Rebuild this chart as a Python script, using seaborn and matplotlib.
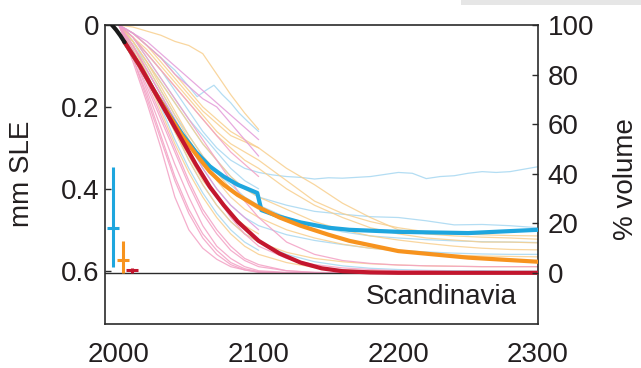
import matplotlib
matplotlib.use("Agg")
import matplotlib.pyplot as plt
import seaborn as sns
from matplotlib.patches import Rectangle

sns.set_theme(style="white")
plt.rcParams['font.family'] = ['Liberation Sans', 'DejaVu Sans']
plt.rcParams['text.color'] = '#231f20'

# Total ice volume of the region (mm sea-level equivalent): 0 % volume left
TOTAL_SLE = 0.605

# Common year grid for the individual model runs
run_years = [2000, 2010, 2020, 2030, 2040, 2050, 2060, 2070, 2080, 2090, 2100,
             2120, 2140, 2160, 2180, 2200, 2220, 2240, 2260, 2280, 2300]

# Individual runs, RCP2.6 (light blue); short lists stop at 2100
rcp26_runs = [
    [0, 0.04, 0.09, 0.14, 0.19, 0.24, 0.29, 0.33, 0.37, 0.40, 0.42,
     0.44, 0.455, 0.462, 0.468, 0.47, 0.478, 0.488, 0.487, 0.49, 0.495],
    [0, 0.05, 0.11, 0.17, 0.23, 0.29, 0.35, 0.40, 0.44, 0.47, 0.49,
     0.512, 0.526, 0.536, 0.545, 0.55, 0.554, 0.557, 0.559, 0.56, 0.56],
    [0, 0.04, 0.10, 0.16, 0.22, 0.27, 0.32, 0.36, 0.39, 0.42, 0.44,
     0.47, 0.49, 0.505, 0.515, 0.52, 0.524, 0.527, 0.529, 0.53, 0.531],
    [0, 0.06, 0.13, 0.20, 0.28, 0.35, 0.41, 0.46, 0.50, 0.53, 0.55],
    [0, 0.03, 0.08, 0.13, 0.18, 0.23, 0.27, 0.31, 0.35, 0.38, 0.40],
    [0, 0.05, 0.12, 0.19, 0.26, 0.33, 0.39, 0.44, 0.48, 0.51, 0.53,
     0.56, 0.578, 0.588, 0.594, 0.597, 0.599, 0.60, 0.60, 0.601, 0.601],
]

# Two RCP2.6 runs with their own, finer year steps
rcp26_high_years = [2000, 2010, 2020, 2030, 2040, 2050, 2056, 2062, 2068,
                    2074, 2080, 2086, 2092, 2100]
rcp26_high_sle = [0, 0.02, 0.05, 0.08, 0.11, 0.15, 0.175, 0.16, 0.147,
                  0.17, 0.19, 0.215, 0.235, 0.26]

rcp26_plateau_years = [2000, 2010, 2020, 2030, 2040, 2050, 2060, 2070, 2080,
                       2090, 2100, 2110, 2120, 2130, 2140, 2150, 2160, 2170,
                       2180, 2190, 2200, 2210, 2220, 2230, 2240, 2250, 2260,
                       2270, 2280, 2290, 2300]
rcp26_plateau_sle = [0, 0.03, 0.07, 0.11, 0.16, 0.21, 0.26, 0.30, 0.33,
                     0.35, 0.36, 0.366, 0.37, 0.372, 0.376, 0.373, 0.374,
                     0.372, 0.37, 0.365, 0.36, 0.362, 0.375, 0.37, 0.368,
                     0.362, 0.358, 0.36, 0.358, 0.352, 0.346]

# Individual runs, RCP4.5 (light orange)
rcp45_runs = [
    [0, 0.005, 0.015, 0.025, 0.04, 0.05, 0.07, 0.12, 0.17, 0.215, 0.255],
    [0, 0.02, 0.05, 0.09, 0.13, 0.17, 0.21, 0.24, 0.27, 0.285, 0.30,
     0.35, 0.39, 0.435, 0.47, 0.50, 0.51, 0.515, 0.518, 0.52, 0.523],
    [0, 0.03, 0.07, 0.11, 0.15, 0.19, 0.23, 0.27, 0.30, 0.33, 0.35,
     0.40, 0.44, 0.47, 0.495, 0.51, 0.52, 0.525, 0.53, 0.53, 0.532],
    [0, 0.04, 0.09, 0.14, 0.19, 0.24, 0.29, 0.33, 0.37, 0.40, 0.42,
     0.45, 0.48, 0.50, 0.515, 0.525, 0.533, 0.54, 0.545, 0.548, 0.549],
    [0, 0.05, 0.10, 0.16, 0.22, 0.28, 0.33, 0.38, 0.42, 0.45, 0.47,
     0.50, 0.52, 0.535, 0.545, 0.552, 0.558, 0.562, 0.564, 0.565, 0.566],
    [0, 0.05, 0.12, 0.19, 0.26, 0.33, 0.39, 0.44, 0.48, 0.51, 0.53,
     0.555, 0.57, 0.578, 0.583, 0.586, 0.588, 0.589, 0.59, 0.59, 0.59],
    [0, 0.02, 0.05, 0.08, 0.12, 0.16, 0.20, 0.23, 0.26, 0.28, 0.30],
    [0, 0.04, 0.09, 0.15, 0.21, 0.27, 0.32, 0.36, 0.40, 0.43, 0.45],
    [0, 0.05, 0.12, 0.19, 0.26, 0.32, 0.38, 0.42, 0.46, 0.49, 0.51],
    [0, 0.06, 0.13, 0.21, 0.29, 0.36, 0.42, 0.47, 0.51, 0.54, 0.56,
     0.58, 0.592, 0.598, 0.60, 0.602, 0.603, 0.603, 0.604, 0.604, 0.604],
    [0, 0.03, 0.06, 0.10, 0.14, 0.18, 0.22, 0.26, 0.29, 0.31, 0.33,
     0.38, 0.43, 0.46, 0.48, 0.495, 0.505, 0.51, 0.512, 0.514, 0.515],
]

# Individual runs, RCP8.5 (pink and magenta)
rcp85_runs = [
    [0, 0.02, 0.05, 0.08, 0.12, 0.15, 0.18, 0.20, 0.24, 0.28, 0.32],
    [0, 0.03, 0.07, 0.11, 0.15, 0.19, 0.23, 0.27, 0.31, 0.34, 0.37],
    [0, 0.03, 0.08, 0.13, 0.18, 0.23, 0.28, 0.33, 0.38, 0.43, 0.47,
     0.53, 0.56, 0.575, 0.582, 0.586, 0.588, 0.589, 0.59, 0.59, 0.59],
    [0, 0.06, 0.14, 0.22, 0.30, 0.38, 0.45, 0.50, 0.54, 0.57, 0.585,
     0.60, 0.604, 0.605, 0.605, 0.605, 0.605, 0.605, 0.605, 0.605, 0.605],
    [0, 0.09, 0.19, 0.30, 0.42, 0.50, 0.545, 0.572, 0.59, 0.598, 0.603,
     0.605, 0.605, 0.605, 0.605, 0.605, 0.605, 0.605, 0.605, 0.605, 0.605],
    [0, 0.08, 0.17, 0.27, 0.37, 0.45, 0.51, 0.55, 0.58, 0.595, 0.602,
     0.605, 0.605, 0.605, 0.605, 0.605, 0.605, 0.605, 0.605, 0.605, 0.605],
    [0, 0.07, 0.16, 0.25, 0.34, 0.42, 0.49, 0.54, 0.57, 0.59, 0.60,
     0.604, 0.605, 0.605, 0.605, 0.605, 0.605, 0.605, 0.605, 0.605, 0.605],
    [0, 0.07, 0.15, 0.23, 0.31, 0.39, 0.46, 0.51, 0.55, 0.575, 0.59,
     0.60, 0.604, 0.605, 0.605, 0.605, 0.605, 0.605, 0.605, 0.605, 0.605],
    [0, 0.05, 0.11, 0.17, 0.23, 0.29, 0.35, 0.40, 0.44, 0.47, 0.50],
    [0, 0.05, 0.11, 0.17, 0.24, 0.31, 0.37, 0.42, 0.47, 0.51, 0.54,
     0.57, 0.585, 0.593, 0.597, 0.60, 0.60, 0.602, 0.602, 0.603, 0.603],
    [0, 0.08, 0.18, 0.28, 0.38, 0.46, 0.52, 0.56, 0.585, 0.598, 0.604,
     0.605, 0.605, 0.605, 0.605, 0.605, 0.605, 0.605, 0.605, 0.605, 0.605],
    [0, 0.02, 0.04, 0.07, 0.10, 0.13, 0.16, 0.19, 0.22, 0.25, 0.28],
]
rcp85_magenta = [0, 8, 11]

# Observed period and ensemble means
obs_years = [1995, 1998, 2001, 2004]
obs_sle = [0.0, 0.012, 0.026, 0.042]

rcp26_years = [2004, 2015, 2025, 2035, 2045, 2055, 2065, 2075, 2085, 2099,
               2102, 2115, 2130, 2150, 2165, 2200, 2250, 2300]
rcp26_mean = [0.042, 0.10, 0.16, 0.214, 0.265, 0.31, 0.345, 0.37, 0.39, 0.41,
              0.452, 0.468, 0.482, 0.495, 0.50, 0.505, 0.508, 0.50]

rcp45_years = [2004, 2015, 2025, 2035, 2045, 2055, 2065, 2075, 2085, 2100,
               2115, 2130, 2150, 2165, 2200, 2250, 2300]
rcp45_mean = [0.042, 0.10, 0.16, 0.215, 0.27, 0.315, 0.358, 0.39, 0.415, 0.445,
              0.47, 0.49, 0.512, 0.527, 0.552, 0.568, 0.578]

rcp85_years = [2004, 2015, 2025, 2035, 2045, 2055, 2065, 2075, 2085, 2100,
               2115, 2130, 2145, 2160, 2180, 2200, 2250, 2300]
rcp85_mean = [0.042, 0.10, 0.16, 0.22, 0.28, 0.34, 0.395, 0.44, 0.48, 0.527,
              0.558, 0.58, 0.594, 0.601, 0.604, 0.605, 0.605, 0.605]

# Ensemble spread in 2300 (low, central, high), drawn at the left margin
spread_x = [1996, 2003, 2009]
spread_low = [0.346, 0.527, 0.593]
spread_mid = [0.495, 0.573, 0.598]
spread_high = [0.590, 0.605, 0.605]

C_BLUE, C_ORANGE, C_RED, C_BLACK = '#1ea6de', '#f7931e', '#c3162e', '#1a1a1a'
C_BLUE_T, C_ORANGE_T = '#a6d7f1', '#f8cf8e'
C_PINK_T, C_MAGENTA_T = '#f3a0c4', '#e39ad9'
INK = '#2b2b2b'

fig = plt.figure(figsize=(6.41, 3.68), dpi=100)
fig.patch.set_facecolor('white')
fig.patches.append(Rectangle((461 / 641, 1 - 5 / 368), 180 / 641, 5 / 368,
                             transform=fig.transFigure, facecolor='#e6e6e6',
                             edgecolor='none'))
ax = fig.add_axes([105 / 641, 1 - 324 / 368, 433 / 641, 299 / 368])


def draw(years, values, color, lw, alpha=1.0, z=2):
    sns.lineplot(x=years[:len(values)], y=values, ax=ax, color=color,
                 linewidth=lw, alpha=alpha, sort=False, estimator=None,
                 legend=False, zorder=z)


for run in rcp26_runs:
    draw(run_years, run, C_BLUE_T, 0.9, 0.85, 1)
draw(rcp26_high_years, rcp26_high_sle, C_BLUE_T, 0.9, 0.85, 1)
draw(rcp26_plateau_years, rcp26_plateau_sle, C_BLUE_T, 0.9, 0.85, 1)
for run in rcp45_runs:
    draw(run_years, run, C_ORANGE_T, 0.9, 0.85, 1)
for i, run in enumerate(rcp85_runs):
    draw(run_years, run, C_MAGENTA_T if i in rcp85_magenta else C_PINK_T,
         0.9, 0.85, 1)

draw(rcp26_years, rcp26_mean, C_BLUE, 3.0, z=3)
draw(rcp45_years, rcp45_mean, C_ORANGE, 3.0, z=4)
draw(rcp85_years, rcp85_mean, C_RED, 3.0, z=5)
draw(obs_years, obs_sle, C_BLACK, 3.0, z=6)

for x, lo, mid, hi, c in zip(spread_x, spread_low, spread_mid, spread_high,
                             [C_BLUE, C_ORANGE, C_RED]):
    ax.errorbar([x], [mid], yerr=[[mid - lo], [hi - mid]], fmt='_',
                color=c, ecolor=c, elinewidth=2.2, capsize=0,
                markersize=8, markeredgewidth=2.2, zorder=6)

ax.axhline(TOTAL_SLE, color=INK, lw=1.0, zorder=2)

ax.set_xlim(1990, 2300)
ax.set_ylim(0.73, 0)
ax.set_xticks([2000, 2100, 2200, 2300])
ax.set_yticks([0, 0.2, 0.4, 0.6])
ax.set_yticklabels(['0', '0.2', '0.4', '0.6'])
ax.set_xlabel('')
ax.set_ylabel('')
ax.tick_params(axis='both', direction='in', length=4, width=1.0,
               colors=INK, labelsize=20, labelcolor='#231f20')
ax.tick_params(axis='x', pad=13)
ax.tick_params(axis='y', pad=4)
for s in ax.spines.values():
    s.set_color(INK)
    s.set_linewidth(1.2)
    s.set_visible(True)

ax2 = ax.twinx()
ax2.set_ylim(100 * (1 - 0.73 / TOTAL_SLE), 100)
ax2.set_yticks([0, 20, 40, 60, 80, 100])
ax2.tick_params(axis='y', direction='in', length=4, width=1.0, colors=INK,
                labelsize=20, labelcolor='#231f20', pad=7)
for s in ax2.spines.values():
    s.set_visible(False)
ax2.grid(False)
ax.grid(False)

ax.text(2285, 0.681, 'Scandinavia', ha='right', va='baseline', fontsize=20)
fig.text(22 / 641, 1 - 174 / 368, 'mm SLE', rotation=90, ha='center',
         va='center', fontsize=20)
fig.text(626 / 641, 1 - 179 / 368, '% volume', rotation=90, ha='center',
         va='center', fontsize=20)

fig.savefig('out.png', dpi=100)
